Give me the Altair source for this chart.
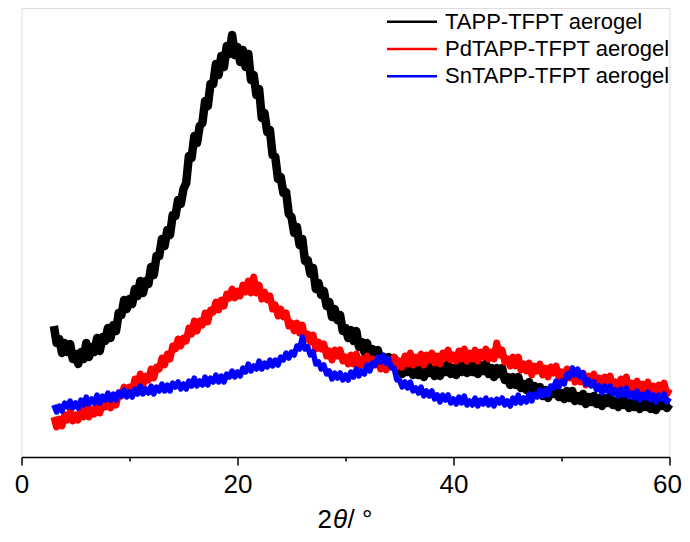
import altair as alt
import pandas as pd

# 2-theta grid (degrees), 0.25 degree steps from 3 to 60
two_theta = [3.0 + 0.25 * i for i in range(229)]

# TAPP-TFPT aerogel (arbitrary intensity units)
tapp = [131, 114, 118, 104, 114, 105, 113, 98, 103, 93, 105, 98, 114, 100, 110, 105, 119, 106, 120, 116,
        129, 119, 132, 126, 144, 142, 157, 148, 158, 153, 168, 161, 176, 164, 176, 173, 190, 182, 201, 201,
        218, 211, 227, 222, 242, 241, 257, 253, 268, 274, 301, 299, 321, 314, 331, 334, 356, 351, 373, 373,
        393, 382, 401, 390, 411, 403, 422, 402, 410, 395, 407, 390, 403, 377, 382, 362, 368, 339, 344, 325,
        327, 302, 300, 278, 280, 264, 265, 243, 240, 224, 230, 212, 218, 196, 197, 183, 189, 168, 174, 162,
        166, 151, 155, 140, 148, 137, 142, 126, 129, 119, 127, 116, 126, 110, 115, 105, 114, 99, 108, 99,
        107, 94, 100, 91, 100, 92, 99, 87, 91, 83, 94, 85, 95, 82, 89, 82, 92, 80, 89, 84,
        92, 81, 89, 81, 91, 85, 93, 83, 89, 82, 93, 85, 96, 84, 91, 85, 95, 83, 92, 86,
        93, 83, 89, 80, 89, 83, 89, 77, 80, 72, 80, 72, 80, 69, 73, 67, 75, 63, 71, 65,
        70, 61, 67, 59, 67, 63, 69, 60, 64, 58, 66, 59, 66, 56, 61, 56, 63, 53, 60, 55,
        61, 53, 59, 51, 59, 54, 60, 52, 56, 50, 58, 52, 59, 49, 54, 50, 57, 48, 55, 50,
        56, 48, 54, 47, 55, 51, 57, 49, 53]

# PdTAPP-TFPT aerogel
pd_tapp = [40, 30, 38, 31, 42, 37, 45, 36, 42, 37, 48, 40, 51, 40, 48, 43, 54, 44, 54, 50,
           58, 49, 58, 52, 64, 61, 70, 62, 70, 66, 78, 71, 83, 72, 81, 77, 88, 79, 90, 88,
           99, 92, 103, 98, 111, 108, 118, 111, 119, 116, 129, 123, 136, 126, 136, 132, 144, 135, 147, 145,
           155, 147, 157, 151, 163, 159, 168, 159, 166, 161, 172, 165, 176, 164, 180, 164, 172, 158, 165, 157,
           161, 148, 152, 141, 148, 140, 144, 131, 134, 126, 134, 124, 132, 118, 123, 115, 122, 108, 115, 108,
           113, 101, 106, 97, 107, 101, 107, 96, 100, 93, 102, 93, 103, 91, 98, 92, 101, 89, 98, 92,
           99, 88, 95, 87, 97, 92, 100, 90, 96, 90, 101, 93, 104, 92, 100, 94, 103, 92, 102, 97,
           104, 94, 101, 93, 104, 99, 107, 97, 102, 96, 106, 98, 108, 96, 104, 98, 107, 96, 105, 100,
           108, 98, 105, 98, 114, 102, 107, 95, 98, 91, 100, 91, 100, 87, 93, 86, 94, 82, 91, 86,
           93, 82, 89, 80, 90, 84, 91, 80, 85, 78, 88, 79, 88, 75, 82, 75, 84, 72, 81, 76,
           83, 72, 79, 70, 80, 74, 81, 70, 75, 68, 78, 70, 80, 67, 74, 67, 76, 64, 73, 68,
           75, 64, 71, 62, 72, 67, 74, 63, 68]

# SnTAPP-TFPT aerogel
sn_tapp = [52, 45, 51, 46, 54, 50, 56, 49, 54, 49, 57, 52, 60, 53, 58, 54, 62, 54, 61, 57,
           64, 57, 63, 57, 65, 61, 67, 60, 65, 60, 68, 63, 71, 63, 68, 64, 71, 63, 70, 66,
           73, 66, 72, 66, 74, 70, 75, 68, 73, 68, 76, 71, 79, 71, 76, 72, 80, 72, 79, 75,
           82, 75, 81, 75, 83, 80, 86, 80, 85, 81, 89, 85, 93, 86, 91, 88, 96, 88, 94, 90,
           97, 91, 97, 92, 100, 97, 104, 99, 105, 102, 111, 108, 120, 108, 110, 102, 105, 93, 95, 88,
           92, 83, 86, 78, 84, 79, 84, 77, 82, 77, 85, 80, 88, 81, 86, 83, 92, 86, 94, 92,
           100, 95, 102, 94, 98, 89, 89, 77, 77, 70, 75, 69, 75, 66, 69, 64, 70, 61, 66, 61,
           66, 58, 62, 55, 62, 57, 62, 54, 58, 53, 60, 54, 61, 52, 56, 52, 59, 51, 57, 53,
           59, 52, 57, 51, 58, 54, 59, 52, 56, 51, 59, 54, 62, 54, 59, 55, 63, 56, 63, 60,
           67, 61, 67, 62, 71, 69, 76, 70, 76, 73, 83, 80, 89, 82, 88, 80, 84, 73, 77, 71,
           75, 67, 71, 64, 71, 66, 71, 63, 67, 61, 68, 62, 69, 60, 64, 59, 66, 57, 63, 59,
           65, 57, 62, 55, 62, 58, 63, 55, 59]

series_names = ["TAPP-TFPT aerogel", "PdTAPP-TFPT aerogel", "SnTAPP-TFPT aerogel"]
series_colors = ["#000000", "#ff0000", "#0000ff"]
tick_values = [0, 10, 20, 30, 40, 50, 60]
title_parts = ["2", "θ", "/ °"]

rows = []
for name, vals in zip(series_names, [tapp, pd_tapp, sn_tapp]):
    for xv, yv in zip(two_theta, vals):
        rows.append({"two_theta": xv, "intensity": yv, "series": name})
df = pd.DataFrame(rows)

FONT = "Liberation Sans"
W, H = 648, 449

xscale = alt.Scale(domain=[0, 60], nice=False, zero=False)
yscale = alt.Scale(domain=[0, 449], nice=False, zero=False)
cscale = alt.Scale(domain=series_names, range=series_colors)

xaxis = alt.Axis(
    values=tick_values,
    labelExpr="datum.value % 20 == 0 ? datum.label : ''",
    tickSize={"condition": {"test": "datum.value % 20 == 0", "value": 8}, "value": 4},
    labelOffset={"condition": {"test": "datum.value == 60", "value": -2.5}, "value": 0},
    tickColor="black", tickWidth=1.5,
    domainColor="black", domainWidth=1.5,
    labelFont=FONT, labelFontSize=26, labelColor="black",
    labelPadding=6, labelFlush=False, labelOverlap=False,
    grid=False, title=None,
)

layers = []
for name, sw in zip(series_names, [8.5, 7, 5.5]):
    layers.append(
        alt.Chart(df)
        .transform_filter(alt.datum.series == name)
        .mark_line(strokeWidth=sw, strokeJoin="round")
        .encode(
            x=alt.X("two_theta:Q", scale=xscale, axis=xaxis),
            y=alt.Y("intensity:Q", scale=yscale, axis=None),
            color=alt.Color("series:N", scale=cscale, legend=None),
            order=alt.Order("two_theta:Q"),
        )
    )

leg_df = pd.DataFrame({"series": series_names, "rank": [0, 1, 2]})
leg_base = alt.Chart(leg_df).transform_calculate(ly="13.7 + 27.3 * datum.rank")
leg_rule = leg_base.mark_rule(strokeWidth=2.5).encode(
    x=alt.value(365.5), x2=alt.value(415.5),
    y=alt.Y("ly:Q", scale=None, axis=None),
    color=alt.Color("series:N", scale=cscale, legend=None),
)
leg_text = leg_base.mark_text(
    align="left", baseline="middle", font=FONT, fontSize=22, color="black"
).encode(
    x=alt.value(423.5),
    y=alt.Y("ly:Q", scale=None, axis=None),
    text="series:N",
)

t_df = pd.DataFrame({"t": title_parts, "k": [0, 1, 2]})
t_base = alt.Chart(t_df)
t1 = t_base.transform_filter("datum.k == 0").mark_text(
    align="right", baseline="alphabetic", font=FONT, fontSize=26, color="black"
).encode(x=alt.value(310.5), y=alt.value(520), text="t:N")
t2 = t_base.transform_filter("datum.k == 1").mark_text(
    align="left", baseline="alphabetic", font=FONT, fontSize=26, fontStyle="italic", color="black"
).encode(x=alt.value(311.5), y=alt.value(520), text="t:N")
t3 = t_base.transform_filter("datum.k == 2").mark_text(
    align="left", baseline="alphabetic", font=FONT, fontSize=26, color="black"
).encode(x=alt.value(326), y=alt.value(520), text="t:N")

chart = (
    alt.layer(*layers, leg_rule, leg_text, t1, t2, t3)
    .properties(
        width=W, height=H,
        autosize=alt.AutoSizeParams(type="none"),
        padding={"left": 13.5, "top": 0, "right": 12.5, "bottom": 77},
    )
    .configure_view(stroke=None)
    .configure(background="white")
)

chart.save("out.html", embed_options={"renderer": "svg", "actions": False})
